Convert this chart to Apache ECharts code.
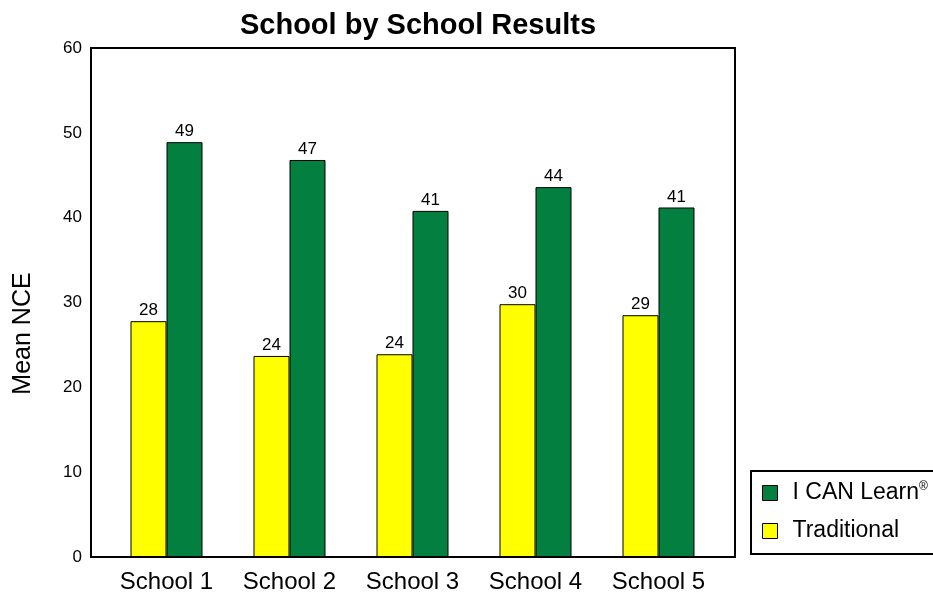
<!DOCTYPE html>
<html><head><meta charset="utf-8">
<script src="https://cdn.jsdelivr.net/npm/echarts@6/dist/echarts.min.js"></script>
<style>html,body{margin:0;padding:0;background:#fff}#c{width:933px;height:595px}</style>
</head><body><div id="c"></div>
<script>
const categories = ['School 1','School 2','School 3','School 4','School 5'];
const traditional = [27.8, 23.7, 23.9, 29.8, 28.5];
const icanlearn = [48.9, 46.8, 40.8, 43.6, 41.2];
const traditionalLabels = ['28','24','24','30','29'];
const icanlearnLabels = ['49','47','41','44','41'];
const yTicks = {min:0, max:60, interval:10};

const chart = echarts.init(document.getElementById('c'));
const font = 'Liberation Sans, Arial, sans-serif';
chart.setOption({
  animation:false,
  title:{text:'School by School Results', left:413, top:6, textAlign:'center',
    textStyle:{fontFamily:font, fontSize:29, fontWeight:'bold', color:'#000'}},
  grid:[
    {left:105, right:213, top:48, bottom:38},
    {left:91, right:198, top:48, bottom:38, show:true, borderColor:'#000', borderWidth:2, backgroundColor:'transparent'}
  ],
  graphic:[{type:'rect', shape:{x:751, y:471, width:240, height:83},
    style:{fill:'none', stroke:'#000', lineWidth:2}, z:10}],
  legend:{
    data:['I CAN Learn','Traditional'], orient:'vertical', left:757, top:476,
    padding:5, itemGap:14, icon:'rect',
    itemWidth:15, itemHeight:15,
    textStyle:{fontFamily:font, fontSize:23, color:'#000', lineHeight:24, padding:[0,0,0,10],
      rich:{sup:{fontSize:12, verticalAlign:'top', padding:[0,0,10,0], fontFamily:font, color:'#000'}}},
    itemStyle:{borderColor:'#000', borderWidth:1},
    formatter: n => n==='I CAN Learn' ? 'I CAN Learn{sup|®}' : n
  },
  xAxis:[
    {type:'category', gridIndex:0, data:categories, axisLine:{show:false}, axisTick:{show:false},
      axisLabel:{fontFamily:font, fontSize:24, color:'#000', margin:13}},
    {type:'category', gridIndex:1, data:categories, show:false}
  ],
  yAxis:[
    {type:'value', gridIndex:0, min:yTicks.min, max:yTicks.max, interval:yTicks.interval, show:false, splitLine:{show:false}},
    {type:'value', gridIndex:1, min:yTicks.min, max:yTicks.max, interval:yTicks.interval,
      name:'Mean NCE', nameLocation:'middle', nameGap:55, nameRotate:90,
      nameTextStyle:{fontFamily:font, fontSize:25, color:'#000', padding:[0,0,0,-62]},
      axisLine:{show:true, lineStyle:{color:'#000', width:2}}, axisTick:{show:false},
      splitLine:{show:false},
      axisLabel:{fontFamily:font, fontSize:17, color:'#000', margin:9}}
  ],
  series:[
    {name:'Traditional', type:'bar', xAxisIndex:0, yAxisIndex:0, data:traditional, barWidth:36, barGap:'0%',
      itemStyle:{color:'#ffff00', borderColor:'#000', borderWidth:1},
      label:{show:true, position:'top', distance:2, fontFamily:font, fontSize:17, color:'#000',
        formatter:p=>traditionalLabels[p.dataIndex]}},
    {name:'I CAN Learn', type:'bar', xAxisIndex:0, yAxisIndex:0, data:icanlearn, barWidth:36, barGap:'0%',
      itemStyle:{color:'#03803f', borderColor:'#000', borderWidth:1},
      label:{show:true, position:'top', distance:2, fontFamily:font, fontSize:17, color:'#000',
        formatter:p=>icanlearnLabels[p.dataIndex]}}
  ]
});
</script></body></html>
